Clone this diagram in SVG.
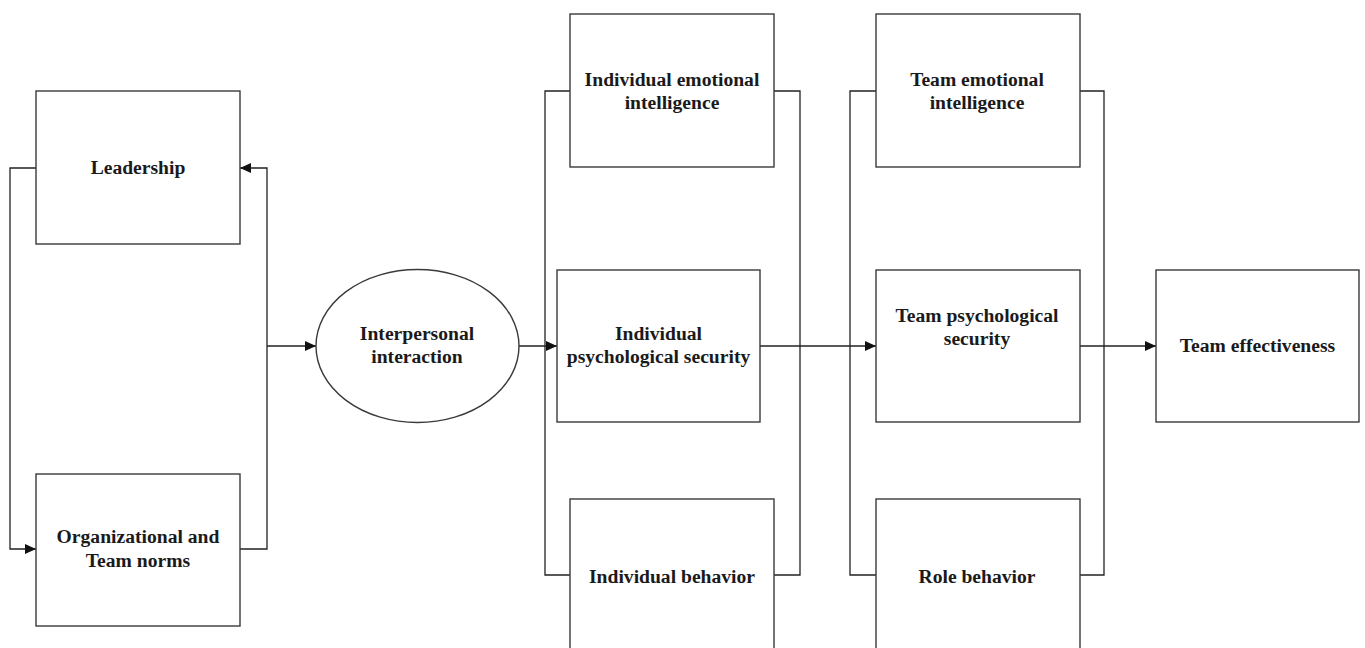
<svg xmlns="http://www.w3.org/2000/svg" width="1365" height="648" viewBox="0 0 1365 648">
<style>
.box{fill:#fff;stroke:#3a3a3a;stroke-width:1.4}
.ln{fill:none;stroke:#222;stroke-width:1.3}
.t{font-family:"Liberation Serif","Times New Roman",serif;font-weight:bold;font-size:19.6px;fill:#1a1a1a;text-anchor:middle}
</style>
<defs>
<marker id="arr" markerUnits="userSpaceOnUse" markerWidth="12" markerHeight="10" refX="11" refY="5" orient="auto">
<path d="M0,0 L11,5 L0,10 Z" fill="#111"/>
</marker>
</defs>
<rect width="1365" height="648" fill="#fff"/>
<g id="connectors">
<path class="ln" d="M36,168 H10 V549 H36" marker-end="url(#arr)"/>
<path class="ln" d="M240,549 H267 V168 H240" marker-end="url(#arr)"/>
<path class="ln" d="M267,346 H316" marker-end="url(#arr)"/>
<path class="ln" d="M519,346 H557" marker-end="url(#arr)"/>
<path class="ln" d="M570,91 H545 V575 H570"/>
<path class="ln" d="M774,91 H800 V575 H774"/>
<path class="ln" d="M760,346 H876" marker-end="url(#arr)"/>
<path class="ln" d="M876,91 H850 V575 H876"/>
<path class="ln" d="M1080,91 H1104 V575 H1080"/>
<path class="ln" d="M1080,346 H1156" marker-end="url(#arr)"/>
</g>
<g id="leadership">
<rect class="box" x="36" y="91" width="204" height="153"/>
<text class="t" x="138" y="174">Leadership</text>
</g>
<g id="org-norms">
<rect class="box" x="36" y="474" width="204" height="152"/>
<text class="t" x="138" y="543">Organizational and</text>
<text class="t" x="138" y="567">Team norms</text>
</g>
<g id="interpersonal">
<ellipse class="box" cx="417.5" cy="346" rx="101.5" ry="76.5"/>
<text class="t" x="417" y="340">Interpersonal</text>
<text class="t" x="417" y="363">interaction</text>
</g>
<g id="ind-ei">
<rect class="box" x="570" y="14" width="204" height="153"/>
<text class="t" x="672" y="86">Individual emotional</text>
<text class="t" x="672" y="109">intelligence</text>
</g>
<g id="ind-ps">
<rect class="box" x="557" y="270" width="203" height="152"/>
<text class="t" x="658.5" y="340">Individual</text>
<text class="t" x="658.5" y="363">psychological security</text>
</g>
<g id="ind-beh">
<rect class="box" x="570" y="499" width="204" height="160"/>
<text class="t" x="672" y="583">Individual behavior</text>
</g>
<g id="team-ei">
<rect class="box" x="876" y="14" width="204" height="153"/>
<text class="t" x="977" y="86">Team emotional</text>
<text class="t" x="977" y="109">intelligence</text>
</g>
<g id="team-ps">
<rect class="box" x="876" y="270" width="204" height="152"/>
<text class="t" x="977" y="322">Team psychological</text>
<text class="t" x="977" y="345">security</text>
</g>
<g id="role-beh">
<rect class="box" x="876" y="499" width="204" height="160"/>
<text class="t" x="977" y="583">Role behavior</text>
</g>
<g id="team-eff">
<rect class="box" x="1156" y="270" width="203" height="152"/>
<text class="t" x="1257.5" y="352">Team effectiveness</text>
</g>
</svg>
